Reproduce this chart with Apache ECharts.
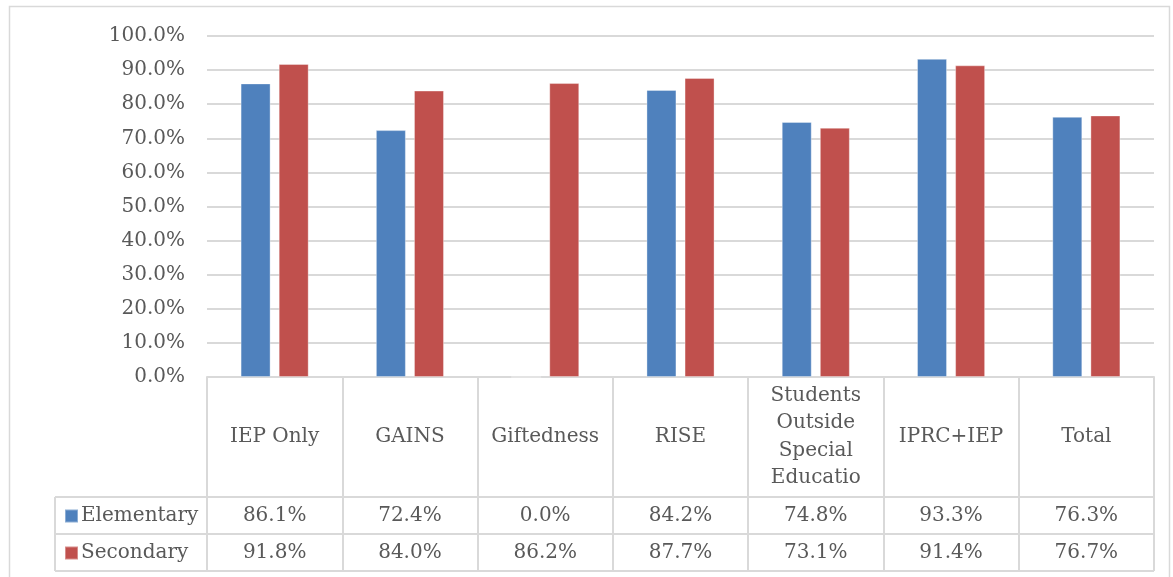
<!DOCTYPE html>
<html>
<head>
<meta charset="utf-8">
<script src="https://cdn.jsdelivr.net/npm/echarts@6/dist/echarts.min.js"></script>
<style>
  html, body { margin: 0; padding: 0; background: #fff; }
  #chart { width: 1173px; height: 577px; }
</style>
</head>
<body>
<div id="chart"></div>
<script>
// Category names (the long one wraps inside its table cell)
const categories = ['IEP Only', 'GAINS', 'Giftedness', 'RISE', 'Students\nOutside\nSpecial\nEducatio', 'IPRC+IEP', 'Total'];
// Percentages per group
const elementary = [86.1, 72.4, 0.0, 84.2, 74.8, 93.3, 76.3];
const secondary = [91.8, 84.0, 86.2, 87.7, 73.1, 91.4, 76.7];
const seriesNames = ['Elementary', 'Secondary'];
const yTicks = { min: 0, max: 100, step: 10 };

const FONT = 'DejaVu Serif';
const TEXT = '#595959';
const LINE = '#d9d9d9';
const colors = ['#4f81bd', '#c0504d'];

const pct = v => v.toFixed(1) + '%';

// Layout of the plot and the data table beneath it
const W = 1173, H = 577;
const plotLeft = 207, plotRight = 1154, plotTop = 36, plotBottom = 377;
const catRowBottom = 497, rowH = 37, tableLeft = 55;

const chart = echarts.init(document.getElementById('chart'), null, { renderer: 'canvas' });

const hiddenAxis = {
  type: 'category',
  gridIndex: 0,
  position: 'bottom',
  axisLine: { show: false },
  axisTick: { show: false },
  splitLine: { show: false }
};

chart.setOption({
  animation: false,
  backgroundColor: '#fff',
  color: colors,
  textStyle: { fontFamily: FONT },
  grid: {
    left: plotLeft,
    right: W - plotRight,
    top: plotTop,
    bottom: H - plotBottom,
    containLabel: false
  },
  legend: {
    orient: 'vertical',
    left: 59,
    top: catRowBottom + 2,
    itemWidth: 13,
    itemHeight: 13,
    itemGap: 13,
    icon: 'rect',
    selectedMode: false,
    data: seriesNames,
    textStyle: { color: TEXT, fontSize: 20, fontFamily: FONT, lineHeight: 24, padding: [0, 0, 0, -2] }
  },
  xAxis: [
    {
      // category row of the table; ticks form the column dividers
      type: 'category',
      data: categories,
      axisLine: { show: true, lineStyle: { color: LINE, width: 2 } },
      axisTick: {
        show: true,
        length: (catRowBottom - plotBottom) + 2 * rowH,
        lineStyle: { color: LINE, width: 2 }
      },
      axisLabel: {
        interval: 0,
        margin: (catRowBottom - plotBottom) / 2,
        verticalAlign: 'middle',
        color: TEXT,
        fontSize: 20,
        fontFamily: FONT,
        lineHeight: 27.5
      }
    },
    Object.assign({}, hiddenAxis, {
      data: elementary.map(pct),
      axisLabel: {
        interval: 0,
        margin: catRowBottom - plotBottom + rowH / 2,
        verticalAlign: 'middle',
        color: TEXT, fontSize: 20, fontFamily: FONT
      }
    }),
    Object.assign({}, hiddenAxis, {
      data: secondary.map(pct),
      axisLabel: {
        interval: 0,
        margin: catRowBottom - plotBottom + rowH * 1.5,
        verticalAlign: 'middle',
        color: TEXT, fontSize: 20, fontFamily: FONT
      }
    })
  ],
  yAxis: {
    type: 'value',
    min: yTicks.min,
    max: yTicks.max,
    interval: yTicks.step,
    axisLine: { show: false },
    axisTick: { show: false },
    splitLine: { lineStyle: { color: LINE, width: 2 } },
    axisLabel: {
      margin: 22,
      color: TEXT,
      fontSize: 20,
      fontFamily: FONT,
      formatter: v => pct(v)
    }
  },
  series: [
    {
      name: seriesNames[0],
      type: 'bar',
      xAxisIndex: 0,
      data: elementary,
      barWidth: 30,
      barGap: '27%',
      itemStyle: { borderColor: 'rgba(255,255,255,0.35)', borderWidth: 1 }
    },
    {
      name: seriesNames[1],
      type: 'bar',
      xAxisIndex: 0,
      data: secondary,
      barWidth: 30,
      barGap: '27%',
      itemStyle: { borderColor: 'rgba(255,255,255,0.35)', borderWidth: 1 }
    }
  ],
  graphic: [
    // outer frame
    {
      type: 'rect', silent: true,
      shape: { x: 9.5, y: 6.5, width: 1160, height: 600 },
      style: { fill: 'none', stroke: LINE, lineWidth: 1.5 }
    },
    // table row rules
    {
      type: 'line', silent: true,
      shape: { x1: tableLeft, y1: catRowBottom, x2: plotRight, y2: catRowBottom },
      style: { stroke: LINE, lineWidth: 2 }
    },
    {
      type: 'line', silent: true,
      shape: { x1: tableLeft, y1: catRowBottom + rowH, x2: plotRight, y2: catRowBottom + rowH },
      style: { stroke: LINE, lineWidth: 2 }
    },
    {
      type: 'line', silent: true,
      shape: { x1: tableLeft, y1: catRowBottom + 2 * rowH, x2: plotRight, y2: catRowBottom + 2 * rowH },
      style: { stroke: LINE, lineWidth: 2 }
    },
    {
      type: 'line', silent: true,
      shape: { x1: tableLeft, y1: catRowBottom, x2: tableLeft, y2: catRowBottom + 2 * rowH },
      style: { stroke: LINE, lineWidth: 2 }
    }
  ]
});
</script>
</body>
</html>
